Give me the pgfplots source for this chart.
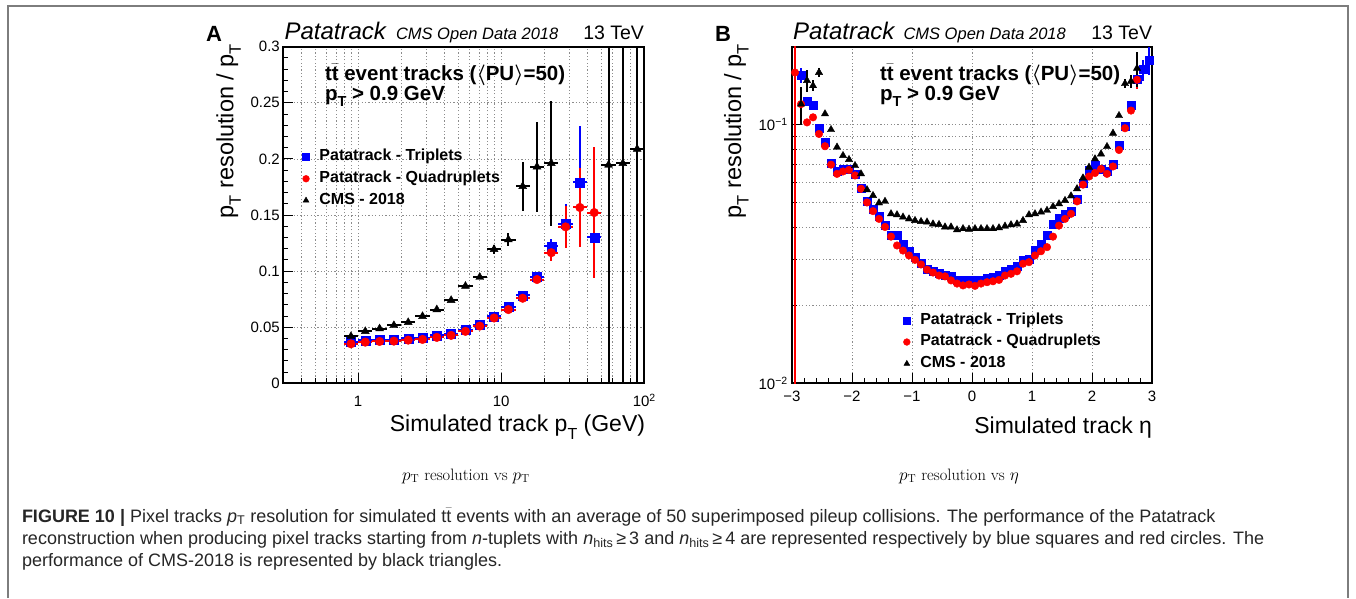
\documentclass[border=0pt]{standalone}
\usepackage{fontspec}
\usepackage{pgfplots}
\pgfplotsset{compat=1.18}
\newfontfamily\helv{Liberation Sans}
\newcommand\fs[1]{\fontsize{#1}{#1}\selectfont}
\newcommand\lo[2]{\raisebox{-0.32em}{\fs{#1}#2}}
\newcommand\tbar{\ensuremath{\bar{\mbox{t}}}}
\definecolor{rootblue}{RGB}{0,0,255}
\definecolor{rootred}{RGB}{255,0,0}
\definecolor{framegray}{RGB}{125,125,125}

\pgfplotsset{
  rootaxis/.style={
    scale only axis,
    axis line style={line width=1.8pt},
    every tick/.style={black, line width=0.9pt},
    major tick length=10pt, minor tick length=5pt,
    tick align=inside, tick pos=left,
    grid style={line width=0.8pt, dash pattern=on 1.2pt off 2.2pt, black!45},
    tick label style={font=\helv\fs{15}, inner sep=1pt},
    /pgf/number format/assume math mode=true,
    legend cell align=left,
    legend style={draw=none, fill=none, inner sep=0pt, anchor=north west,
      font=\helv\bfseries\fs{16}, column sep=10pt, row sep=0pt,
      nodes={inner sep=0pt, text height=14.6pt, text depth=7.1pt}},
    legend image code/.code={\draw[#1, mark size=3.4pt] plot coordinates {(0pt,0pt)};},
    error bars/error mark=none,
    error bars/error bar style={line width=2pt},
  },
}

\begin{document}
\begin{tikzpicture}
\useasboundingbox (0pt,0pt) rectangle (1356pt,-598pt);
\fill[white] (0pt,0pt) rectangle (1356pt,-598pt);
\draw[framegray, line width=1.5pt] (8pt,-598pt) -- (8pt,-6pt) -- (1348pt,-6pt) -- (1348pt,-598pt);

% ---------------- panel A : resolution vs pT ----------------
\begin{axis}[rootaxis,
  at={(283.3pt,-383.3pt)}, anchor=south west,
  width=361pt, height=336.6pt,
  xmode=log, xmin=0.3, xmax=100, ymin=0, ymax=0.3,
  xtick={1,10,100}, xticklabels={1,10,{10\textsuperscript{2}}},
  minor xtick={0.4,0.5,0.6,0.7,0.8,0.9,2,3,4,5,6,7,8,9,20,30,40,50,60,70,80,90},
  ytick={0,0.05,0.1,0.15,0.2,0.25,0.3},
  yticklabels={0,0.05,0.1,0.15,0.2,0.25,0.3},
  minor y tick num=4,
  xmajorgrids, xminorgrids, ymajorgrids,
  xticklabel style={anchor=base, yshift=-23.4pt},
  yticklabel style={xshift=-2.3pt},
  legend style={at={(0.053,0.705)}},
  error bars/x dir=both, error bars/x explicit,
  error bars/y dir=both, error bars/y explicit,
]
\addplot[only marks, mark=square*, color=rootblue, mark size=4.5pt]
  table[x=x, y=y, x error minus=exm, x error plus=exp, y error=ey] {
x       y       exm     exp     ey
0.8913  0.0367  0.0970  0.1088  0
1.1220  0.0382  0.1220  0.1369  0
1.4125  0.0388  0.1536  0.1724  0
1.7783  0.0388  0.1934  0.2170  0
2.2387  0.0400  0.2435  0.2732  0
2.8184  0.0406  0.3065  0.3439  0
3.5481  0.0427  0.3858  0.4329  0
4.4668  0.0442  0.4858  0.5451  0
5.6234  0.0478  0.6115  0.6862  0
7.0795  0.0522  0.7699  0.8638  0
8.9125  0.0597  0.9692  1.0875  0
11.220  0.0680  1.2202  1.3691  0
14.125  0.0785  1.5361  1.7236  0.002
17.783  0.0949  1.9339  2.1699  0.002
22.387  0.1220  2.4346  2.7317  0.007
28.184  0.1420  3.0650  3.4390  0.018
35.481  0.1790  3.8586  4.3294  0.050
44.668  0.1300  4.8576  5.4505  0.004
};
\addlegendentry{Patatrack - Triplets}
\addplot[only marks, mark=*, color=rootred, mark size=4.3pt]
  table[x=x, y=y, x error minus=exm, x error plus=exp, y error=ey] {
x       y       exm     exp     ey
0.8913  0.0352  0.0970  0.1088  0
1.1220  0.0367  0.1220  0.1369  0
1.4125  0.0373  0.1536  0.1724  0
1.7783  0.0376  0.1934  0.2170  0
2.2387  0.0385  0.2435  0.2732  0
2.8184  0.0391  0.3065  0.3439  0
3.5481  0.0409  0.3858  0.4329  0
4.4668  0.0427  0.4858  0.5451  0
5.6234  0.0463  0.6115  0.6862  0
7.0795  0.0510  0.7699  0.8638  0
8.9125  0.0582  0.9692  1.0875  0
11.220  0.0657  1.2202  1.3691  0
14.125  0.0758  1.5361  1.7236  0.002
17.783  0.0925  1.9339  2.1699  0.002
22.387  0.1164  2.4346  2.7317  0.0075
28.184  0.1394  3.0650  3.4390  0.019
35.481  0.1567  3.8586  4.3294  0.035
44.668  0.1522  4.8576  5.4505  0.058
};
\addlegendentry{Patatrack - Quadruplets}
\addplot[only marks, mark=triangle*, color=black, mark size=4.6pt]
  table[x=x, y=y, x error minus=exm, x error plus=exp, y error=ey] {
x       y       exm     exp     ey
0.8913  0.0418  0.0970  0.1088  0
1.1220  0.0463  0.1220  0.1369  0
1.4125  0.0487  0.1536  0.1724  0
1.7783  0.0516  0.1934  0.2170  0
2.2387  0.0543  0.2435  0.2732  0
2.8184  0.0597  0.3065  0.3439  0
3.5481  0.0657  0.3858  0.4329  0
4.4668  0.0740  0.4858  0.5451  0
5.6234  0.0866  0.6115  0.6862  0
7.0795  0.0946  0.7699  0.8638  0
8.9125  0.1194  0.9692  1.0875  0.004
11.220  0.1280  1.2202  1.3691  0.006
14.125  0.1755  1.5361  1.7236  0.022
17.783  0.1930  1.9339  2.1699  0.040
22.387  0.1960  2.4346  2.7317  0.056
56.234  0.1946  6.1155  6.8617  0.5
70.795  0.1960  7.6989  8.6385  0.5
89.125  0.2088  9.6923  10.875  0.5
};
\addlegendentry{CMS - 2018}
\end{axis}

% ---------------- panel B : resolution vs eta ----------------
\begin{axis}[rootaxis,
  at={(792pt,-383.3pt)}, anchor=south west,
  width=360pt, height=336.6pt,
  ymode=log, xmin=-3, xmax=3, ymin=0.01, ymax=0.2,
  xtick={-3,-2,-1,0,1,2,3}, xticklabels={−3,−2,−1,0,1,2,3},
  minor x tick num=4,
  ytick={0.01,0.1}, yticklabels={10\textsuperscript{−2},10\textsuperscript{−1}},
  minor ytick={0.02,0.03,0.04,0.05,0.06,0.07,0.08,0.09,0.2},
  xmajorgrids, ymajorgrids, yminorgrids,
  xticklabel style={anchor=base, yshift=-18.4pt},
  yticklabel style={xshift=-3pt},
  legend style={at={(0.309,0.220)}},
  error bars/y dir=both, error bars/y explicit,
]
\addplot[only marks, mark=square*, color=rootblue, mark size=4pt]
  table[x=x, y=y, y error=ey] {
x      y       ey
-2.85  0.155   0.010
-2.75  0.123   0
-2.65  0.119   0
-2.55  0.097   0
-2.45  0.0855  0
-2.35  0.0709  0
-2.25  0.0662  0
-2.15  0.0674  0
-2.05  0.0674  0
-1.95  0.0645  0
-1.85  0.0567  0
-1.75  0.0506  0
-1.65  0.0472  0
-1.55  0.0441  0
-1.45  0.0410  0
-1.35  0.0375  0
-1.25  0.0373  0
-1.15  0.0346  0
-1.05  0.0324  0
-0.95  0.0308  0
-0.85  0.0291  0
-0.75  0.0277  0
-0.65  0.0271  0
-0.55  0.0267  0
-0.45  0.0261  0
-0.35  0.0259  0
-0.25  0.0250  0
-0.15  0.0250  0
-0.05  0.0250  0
0.05   0.0251  0
0.15   0.0251  0
0.25   0.0255  0
0.35   0.0257  0
0.45   0.0261  0
0.55   0.0271  0
0.65   0.0277  0
0.75   0.0283  0
0.85   0.0299  0
0.95   0.0302  0
1.05   0.0326  0
1.15   0.0346  0
1.25   0.0373  0
1.35   0.0413  0
1.45   0.0435  0
1.55   0.0450  0
1.65   0.0462  0
1.75   0.0515  0
1.85   0.0592  0
1.95   0.0664  0
2.05   0.0695  0
2.15   0.0674  0
2.25   0.0659  0
2.35   0.0700  0
2.45   0.0835  0
2.55   0.0985  0
2.65   0.1190  0
2.75   0.1500  0
2.85   0.1630  0.015
2.95   0.1780  0.022
};
\addlegendentry{Patatrack - Triplets}
\addplot[only marks, mark=*, color=rootred, mark size=3.8pt]
  table[x=x, y=y, y error plus=eyp, y error minus=eym] {
x      y       eyp    eym
-2.95  0.159   1.0    0.155
-2.85  0.120   0      0
-2.75  0.102   0      0
-2.65  0.1067  0      0
-2.55  0.092   0      0
-2.45  0.0825  0      0
-2.35  0.0700  0      0
-2.25  0.0645  0      0
-2.15  0.0659  0      0
-2.05  0.0668  0      0
-1.95  0.0636  0      0
-1.85  0.0565  0      0
-1.75  0.0500  0      0
-1.65  0.0463  0      0
-1.55  0.0432  0      0
-1.45  0.0402  0      0
-1.35  0.0369  0      0
-1.25  0.0341  0      0
-1.15  0.0326  0      0
-1.05  0.0312  0      0
-0.95  0.0300  0      0
-0.85  0.0288  0      0
-0.75  0.0275  0      0
-0.65  0.0268  0      0
-0.55  0.0261  0      0
-0.45  0.0259  0      0
-0.35  0.0250  0      0
-0.25  0.0243  0      0
-0.15  0.0239  0      0
-0.05  0.0241  0      0
0.05   0.0238  0      0
0.15   0.0243  0      0
0.25   0.0246  0      0
0.35   0.0248  0      0
0.45   0.0251  0      0
0.55   0.0261  0      0
0.65   0.0265  0      0
0.75   0.0271  0      0
0.85   0.0290  0      0
0.95   0.0294  0      0
1.05   0.0312  0      0
1.15   0.0324  0      0
1.25   0.0336  0      0
1.35   0.0369  0      0
1.45   0.0407  0      0
1.55   0.0432  0      0
1.65   0.0452  0      0
1.75   0.0505  0      0
1.85   0.0586  0      0
1.95   0.0630  0      0
2.05   0.0650  0      0
2.15   0.0674  0      0
2.25   0.0645  0      0
2.35   0.0689  0      0
2.45   0.0798  0      0
2.55   0.0968  0      0
2.65   0.1133  0      0
2.75   0.1490  0.012  0.012
};
\addlegendentry{Patatrack - Quadruplets}
\addplot[only marks, mark=triangle*, color=black, mark size=4.2pt]
  table[x=x, y=y, y error=ey] {
x      y       ey
-2.85  0.120   0.020
-2.75  0.148   0.014
-2.65  0.1414  0.007
-2.55  0.159   0.006
-2.45  0.110   0
-2.35  0.0956  0
-2.25  0.0818  0
-2.15  0.0759  0
-2.05  0.0733  0
-1.95  0.0694  0
-1.85  0.0645  0
-1.75  0.0560  0
-1.65  0.0532  0
-1.55  0.0498  0
-1.45  0.0505  0
-1.35  0.0452  0
-1.25  0.0448  0
-1.15  0.0439  0
-1.05  0.0432  0
-0.95  0.0426  0
-0.85  0.0422  0
-0.75  0.0420  0
-0.65  0.0413  0
-0.55  0.0411  0
-0.45  0.0402  0
-0.35  0.0402  0
-0.25  0.0392  0
-0.15  0.0396  0
-0.05  0.0394  0
0.05   0.0396  0
0.15   0.0396  0
0.25   0.0396  0
0.35   0.0396  0
0.45   0.0399  0
0.55   0.0405  0
0.65   0.0410  0
0.75   0.0413  0
0.85   0.0426  0
0.95   0.0448  0
1.05   0.0452  0
1.15   0.0459  0
1.25   0.0466  0
1.35   0.0482  0
1.45   0.0494  0
1.55   0.0509  0
1.65   0.0530  0
1.75   0.0565  0
1.85   0.0622  0
1.95   0.0684  0
2.05   0.0737  0
2.15   0.0770  0
2.25   0.0822  0
2.35   0.0926  0
2.45   0.1083  0
2.55   0.1440  0.006
2.65   0.1470  0.008
2.75   0.1650  0.025
};
\addlegendentry{CMS - 2018}
\end{axis}

% ---------------- ROOT texts ----------------
\begin{scope}[every node/.style={inner sep=0pt, outer sep=0pt}]
% panel A
\node[anchor=base west, font=\helv\bfseries\fs{22}] at (206pt,-41.7pt) {A};
\node[anchor=base west, font=\helv\itshape\fs{24}] at (284.5pt,-39pt) {Patatrack};
\node[anchor=base west, font=\helv\itshape\fs{16.5}] at (396pt,-39pt) {CMS Open Data 2018};
\node[anchor=base east, font=\helv\fs{19.5}] at (644pt,-39pt) {13 TeV};
\node[anchor=base west, font=\helv\bfseries\fs{20.5}] at (325pt,-80pt)
  {t\tbar{} event tracks ({\boldmath$\langle$}PU{\boldmath$\rangle$}=50)};
\node[anchor=base west, font=\helv\bfseries\fs{20.5}] at (325pt,-100pt)
  {p\lo{14.5}{T} {>} 0.9 GeV};
\node[rotate=90, anchor=base east, font=\helv\fs{23.5}] at (233.3pt,-44pt)
  {p\lo{16.5}{T} resolution / p\lo{16.5}{T}};
\node[anchor=base east, font=\helv\fs{23}] at (645pt,-431.7pt)
  {Simulated track p\lo{16}{T} (GeV)};
% panel B
\node[anchor=base west, font=\helv\bfseries\fs{22}] at (715pt,-41.7pt) {B};
\node[anchor=base west, font=\helv\itshape\fs{24}] at (793pt,-39pt) {Patatrack};
\node[anchor=base west, font=\helv\itshape\fs{16.5}] at (903.5pt,-39pt) {CMS Open Data 2018};
\node[anchor=base east, font=\helv\fs{19.5}] at (1152pt,-39pt) {13 TeV};
\node[anchor=base west, font=\helv\bfseries\fs{20.5}] at (880pt,-80pt)
  {t\tbar{} event tracks ({\boldmath$\langle$}PU{\boldmath$\rangle$}=50)};
\node[anchor=base west, font=\helv\bfseries\fs{20.5}] at (880pt,-100pt)
  {p\lo{14.5}{T} {>} 0.9 GeV};
\node[rotate=90, anchor=base east, font=\helv\fs{23.5}] at (741pt,-44pt)
  {p\lo{16.5}{T} resolution / p\lo{16.5}{T}};
\node[anchor=base east, font=\helv\fs{23}] at (1152pt,-433pt)
  {Simulated track η};
% sub-captions (LaTeX)
\node[anchor=base, font=\fs{16.5}] at (466pt,-480pt) {$p_{\mathrm{T}}$ resolution vs $p_{\mathrm{T}}$};
\node[anchor=base, font=\fs{16.5}] at (959pt,-480pt) {$p_{\mathrm{T}}$ resolution vs $\eta$};
% figure caption
\node[anchor=base west, font=\helv\fs{18}, text=black!85] at (22pt,-522pt)
  {\textbf{FIGURE 10 |} Pixel tracks \textit{p}\textsubscript{T} resolution for simulated t\tbar{} events with an average of 50 superimposed pileup collisions. The performance of the Patatrack};
\node[anchor=base west, font=\helv\fs{18}, text=black!85] at (22pt,-544pt)
  {reconstruction when producing pixel tracks starting from \textit{n}-tuplets with \textit{n}\textsubscript{hits}\,≥\,3 and \textit{n}\textsubscript{hits}\,≥\,4 are represented respectively by blue squares and red circles. The};
\node[anchor=base west, font=\helv\fs{18}, text=black!85] at (22pt,-566pt)
  {performance of CMS-2018 is represented by black triangles.};
\end{scope}
\end{tikzpicture}
\end{document}
